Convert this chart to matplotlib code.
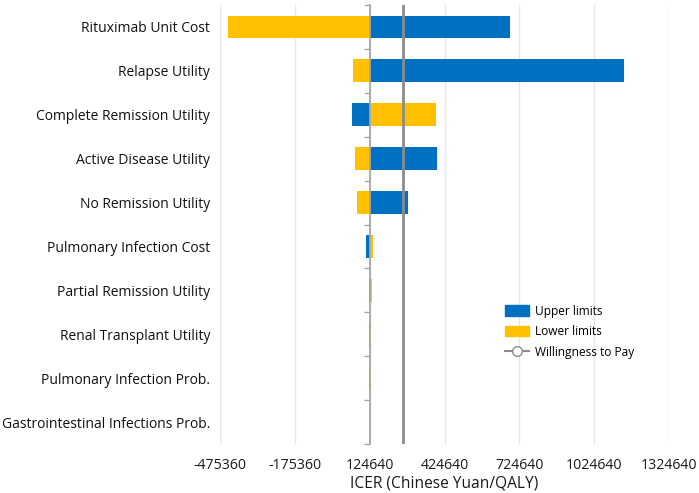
import numpy as np
import matplotlib
matplotlib.use("Agg")
import matplotlib.pyplot as plt
from matplotlib.lines import Line2D
from matplotlib.patches import Patch

plt.rcParams['font.family'] = ['Open Sans', 'DejaVu Sans']

categories = ["Rituximab Unit Cost", "Relapse Utility", "Complete Remission Utility",
              "Active Disease Utility", "No Remission Utility", "Pulmonary Infection Cost",
              "Partial Remission Utility", "Renal Transplant Utility",
              "Pulmonary Infection Prob.", "Gastrointestinal Infections Prob."]
upper = [688900, 1144500, 55100, 393300, 278200, 111000, 122000, 121500, 121000, 124400]
lower = [-443500, 57700, 389300, 67200, 74900, 139000, 134000, 128000, 128500, 124900]
base = 124640
wtp = 257094
xticks = [-475360, -175360, 124640, 424640, 724640, 1024640, 1324640]

blue = '#0070C0'
yellow = '#FFC000'

fig = plt.figure(figsize=(6.99, 4.93), dpi=100)
ax = fig.add_axes([220/699, 1-444/493, (669-220)/699, (444-5)/493])

y = np.arange(len(categories))
h = 0.52
ax.barh(y, np.array(upper) - base, left=base, height=h, color=blue, zorder=2)
ax.barh(y, np.array(lower) - base, left=base, height=h, color=yellow, zorder=2)

ax.set_xlim(xticks[0], xticks[-1])
ax.set_ylim(len(categories) - 0.5, -0.5)
ax.set_xticks(xticks)
ax.set_xticklabels([str(t) for t in xticks], fontsize=10.2, color='#1a1a1a')
ax.set_yticks(y)
ax.set_yticklabels(categories, fontsize=10.0, color='#111111')
ax.tick_params(axis='both', length=0)
ax.tick_params(axis='y', pad=7)
ax.tick_params(axis='x', pad=10)
for s in ax.spines.values():
    s.set_visible(False)
ax.grid(axis='x', color='#e6e6e6', lw=1, zorder=0)
ax.set_axisbelow(True)
ax.set_xlabel("ICER (Chinese Yuan/QALY)", fontsize=11.2, color='#1a1a1a', labelpad=2)

# category axis at base value
pos = (base - xticks[0]) / (xticks[-1] - xticks[0])
sec = ax.secondary_yaxis(pos)
sec.set_alignment('left')
sec.set_yticks(np.arange(-0.5, len(categories), 1.0))
sec.set_yticklabels([])
sec.tick_params(axis='y', length=4, width=1, color='#a6a6a6', direction='out')
sec.spines['left'].set_color('#a6a6a6')
sec.spines['left'].set_linewidth(1.3)
sec.set_zorder(3)

ax.axvline(wtp, color='#8c8c8c', lw=2, zorder=4)

handles = [Patch(facecolor=blue, edgecolor=blue),
           Patch(facecolor=yellow, edgecolor=yellow),
           Line2D([0], [0], color='#8c8c8c', lw=1.5, marker='o', markersize=7,
                  markerfacecolor='white', markeredgecolor='#8c8c8c')]
fig.legend(handles, ["Upper limits", "Lower limits", "Willingness to Pay"],
           loc='upper left', bbox_to_anchor=(500/699, 1-300/493), frameon=False,
           fontsize=8.6, handlelength=2.0, handleheight=1.0, labelspacing=0.62,
           handletextpad=0.5, borderaxespad=0)

fig.savefig("out.png", dpi=100)
